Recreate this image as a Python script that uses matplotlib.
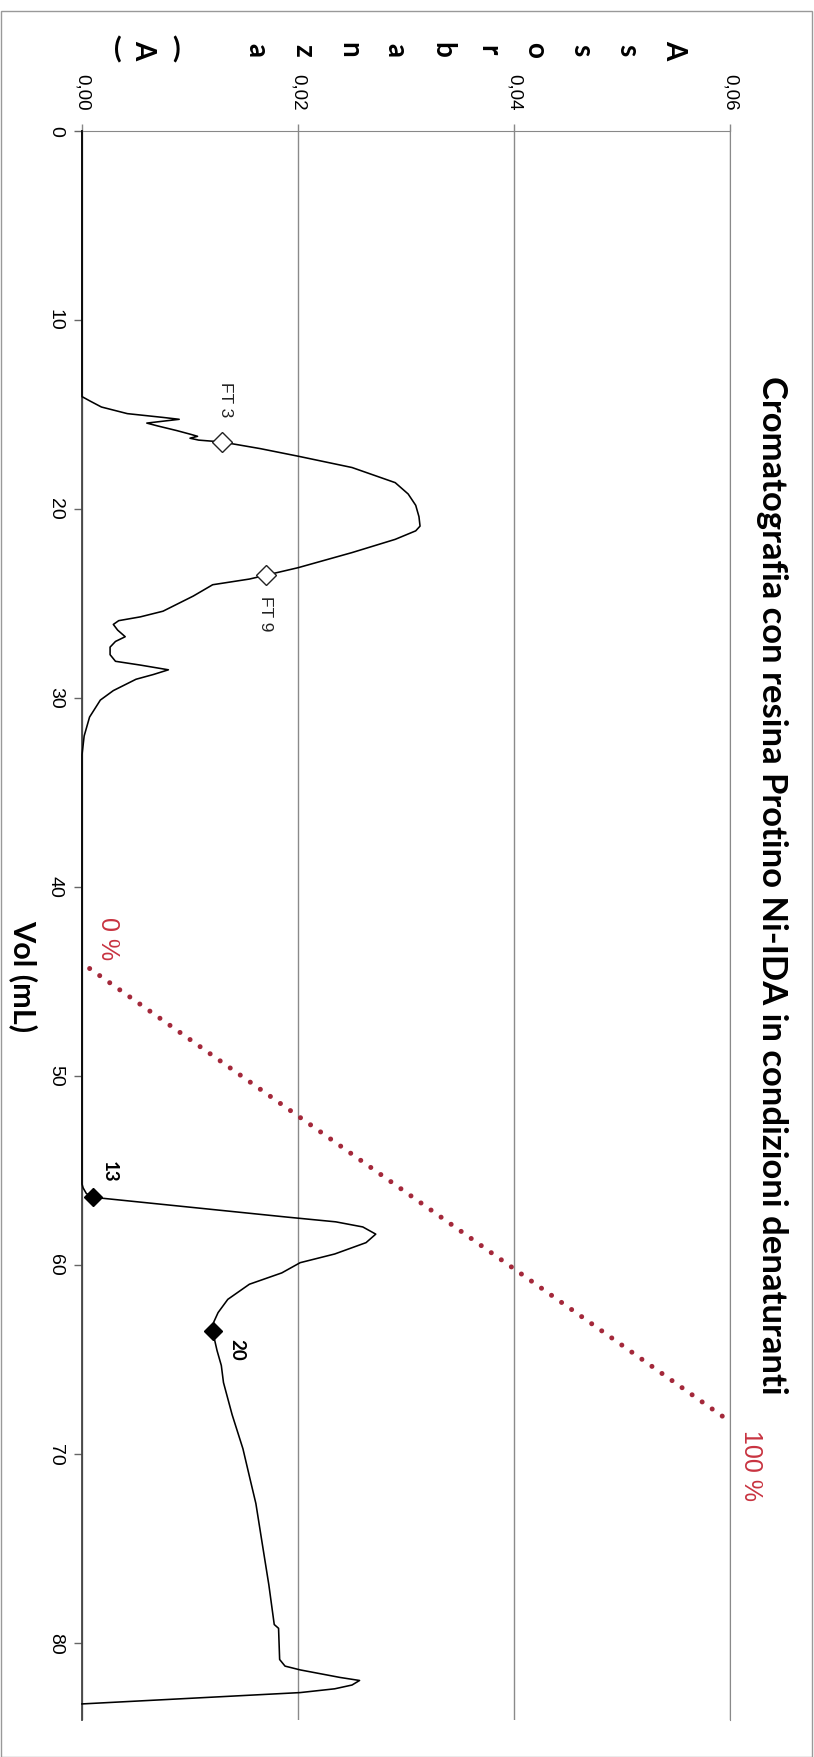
import matplotlib
matplotlib.use('Agg')
import matplotlib.pyplot as plt
from matplotlib.patches import Rectangle

# ---------------- data ----------------
vol = [0, 14.05, 14.3, 14.6, 14.95, 15.15, 15.25, 15.45, 15.6, 15.85, 16.05, 16.15, 16.25, 16.35,
       16.45, 16.8, 17.2, 17.8, 18.6, 19.2, 19.8, 20.4, 20.9, 21.15, 21.6, 22.3, 23.1, 23.5, 23.7,
       24.0, 24.6, 25.4, 25.7, 25.9, 26.1, 26.4, 26.75, 27.0, 27.3, 27.7, 28.05, 28.25, 28.5, 28.75,
       29.0, 29.6, 30.1, 31.0, 32.0, 33.0, 55.7, 55.9, 56.2, 56.4, 57.45, 57.7, 57.97, 58.35, 58.8,
       59.4, 59.86, 60.4, 61.0, 61.8, 62.5, 63.0, 63.5, 64.5, 65.3, 66.2, 67.9, 69.7, 71.4, 72.6,
       74.4, 76.9, 79.0, 79.2, 80.85, 81.2, 81.4, 81.8, 81.96, 82.2, 82.4, 82.6, 83.2]
absorb = [0, 0, 0.0008, 0.0018, 0.0042, 0.0075, 0.0090, 0.0060, 0.0070, 0.0088, 0.0101, 0.0107,
          0.0100, 0.0108, 0.01296, 0.0165, 0.0200, 0.0250, 0.0290, 0.0302, 0.0309, 0.0312, 0.0313,
          0.0309, 0.0290, 0.0250, 0.0200, 0.0170, 0.0155, 0.0121, 0.0103, 0.0075, 0.0054, 0.0034,
          0.0029, 0.0033, 0.0040, 0.0031, 0.0026, 0.0026, 0.0031, 0.0054, 0.0080, 0.0066, 0.0050,
          0.0029, 0.0017, 0.0007, 0.0002, 0.0, 0.0, 0.0001, 0.0004, 0.0010, 0.0190, 0.0235, 0.0260,
          0.0272, 0.0263, 0.0234, 0.0202, 0.0185, 0.0155, 0.0135, 0.0126, 0.0122, 0.0121, 0.0125,
          0.0129, 0.0131, 0.0139, 0.0149, 0.0156, 0.0161, 0.0166, 0.0173, 0.0178, 0.0182, 0.0183,
          0.0188, 0.0202, 0.0239, 0.0257, 0.0250, 0.0234, 0.0202, 0.0]

ft_vol = [16.45, 23.5]
ft_abs = [0.01296, 0.0170]
ft_labels = ['FT 3', 'FT 9']
frac_vol = [56.4, 63.5]
frac_abs = [0.0010, 0.0121]
frac_labels = ['13', '20']

grad_vol = [44.3, 68.1]
grad_pct = [0, 100]
grad_labels = ['0 %', '100 %']

vol_ticks = [0, 10, 20, 30, 40, 50, 60, 70, 80]
abs_ticks = [0.0, 0.02, 0.04, 0.06]
abs_ticklabels = ['0,00', '0,02', '0,04', '0,06']

title = 'Cromatografia con resina Protino Ni-IDA in condizioni denaturanti'
xlabel = 'Vol (mL)'
ylabel_word = 'Assorbanza'
ylabel_unit = ['(', 'A', ')']

# ---------------- figure ----------------
W, H = 814, 1757
fig = plt.figure(figsize=(W / 100, H / 100), dpi=100)
fig.patch.set_facecolor('white')

def fx(px):
    return px / W

def fy(py):
    return 1 - py / H

top_px, bot_px, left_px, right_px = 131, 1720, 82, 730
ax = fig.add_axes([fx(left_px), fy(bot_px), (right_px - left_px) / W, (bot_px - top_px) / H])

ax.plot(absorb, vol, color='black', lw=1.15, solid_joinstyle='round', clip_on=False, zorder=5)
ax.set_xlim(0, 0.06)
ax.set_ylim(84.05, 0)

# gradient line on a secondary scale (created first so the main x axis can be put on top after)
ax2 = ax.twiny()
ax2.set_xlim(-1.2, 100.7)
ax2.set_ylim(84.05, 0)
ax2.axis('off')
ax2.plot(grad_pct, grad_vol, color='#A3283A', lw=3.6, linestyle=(0, (0.01, 2.45)),
         dash_capstyle='round', clip_on=False)
grad_offsets = [(2.9, -1.6), (4.0, 2.5)]
for p, v, t, off in zip(grad_pct, grad_vol, grad_labels, grad_offsets):
    ax2.text(p + off[0], v + off[1], t, rotation=-90, ha='center', va='center',
             fontsize=18, family='Liberation Sans', color='#C83340', clip_on=False)

ax.set_xticks(abs_ticks)
ax.set_xticklabels(abs_ticklabels)
ax.xaxis.set_ticks_position('top')
ax.tick_params(axis='x', which='both', top=True, bottom=False, labeltop=True, labelbottom=False,
               direction='out', length=5, width=1, color='#888888', pad=10,
               labelsize=13.5, labelrotation=-90)
ax.set_yticks(vol_ticks)
ax.tick_params(axis='y', direction='out', length=6, width=1, color='#666666', pad=7,
               labelsize=14, labelrotation=-90)
for lab in ax.get_xticklabels() + ax.get_yticklabels():
    lab.set_fontfamily('Liberation Sans')
for lab in ax.get_yticklabels():
    lab.set_verticalalignment('center')

ax.grid(axis='x', color='#8a8a8a', lw=1)
ax.grid(axis='y', visible=False)
ax.spines['bottom'].set_visible(False)
ax.spines['left'].set_color('#444444')
ax.spines['left'].set_linewidth(1.3)
ax.spines['top'].set_color('#888888')
ax.spines['right'].set_color('#8a8a8a')

# markers
ax.plot(ft_abs, ft_vol, linestyle='none', marker='D', ms=10, mfc='white', mec='#222222',
        mew=1.0, zorder=6, clip_on=False)
ax.plot(frac_abs, frac_vol, linestyle='none', marker='D', ms=9, mfc='black', mec='black',
        zorder=6, clip_on=False)

ft_offsets = [(4, 42), (0, -38)]
for a, v, t, off in zip(ft_abs, ft_vol, ft_labels, ft_offsets):
    ax.annotate(t, (a, v), xytext=off, textcoords='offset pixels', rotation=-90,
                ha='center', va='center', fontsize=12.5, family='Liberation Sans', color='#222222')
frac_offsets = [(16, 25), (24, -18)]
for a, v, t, off in zip(frac_abs, frac_vol, frac_labels, frac_offsets):
    ax.annotate(t, (a, v), xytext=off, textcoords='offset pixels', rotation=-90,
                ha='center', va='center', fontsize=13.5, family='Lato', fontweight='bold',
                color='black')

# texts
t_title = fig.text(fx(772), fy(885), title, rotation=-90, ha='center', va='center',
                   fontsize=22, fontweight='bold', family='Lato')
t_xlab = fig.text(fx(23), fy(976), xlabel, rotation=-90, ha='center', va='center',
                  fontsize=20, fontweight='bold', family='Lato')

letter_start, letter_step = 674, -46.4
for i, ch in enumerate(ylabel_word):
    fig.text(fx(letter_start + i * letter_step), fy(50), ch, rotation=-90, ha='center',
             va='center', fontsize=20, fontweight='bold', family='Lato')
unit_x = [118, 143, 176]
unit_rot = [0, -90, 0]
for ch, xp, rot in zip(ylabel_unit, unit_x, unit_rot):
    fig.text(fx(xp), fy(50), ch, rotation=rot, ha='center', va='center',
             fontsize=20, fontweight='bold', family='Lato')

# fit title and x label length
fig.canvas.draw()
r = fig.canvas.get_renderer()
for t, target in [(t_title, 1019), (t_xlab, 112)]:
    bb = t.get_window_extent(r)
    t.set_fontsize(t.get_fontsize() * target / bb.height)

# chart border
fig.patches.append(Rectangle((fx(0.5), 0), (811.5) / W, 1 - 11 / H, transform=fig.transFigure,
                             fill=False, ec='#999999', lw=1))

fig.savefig('out.png', dpi=100, facecolor='white')
